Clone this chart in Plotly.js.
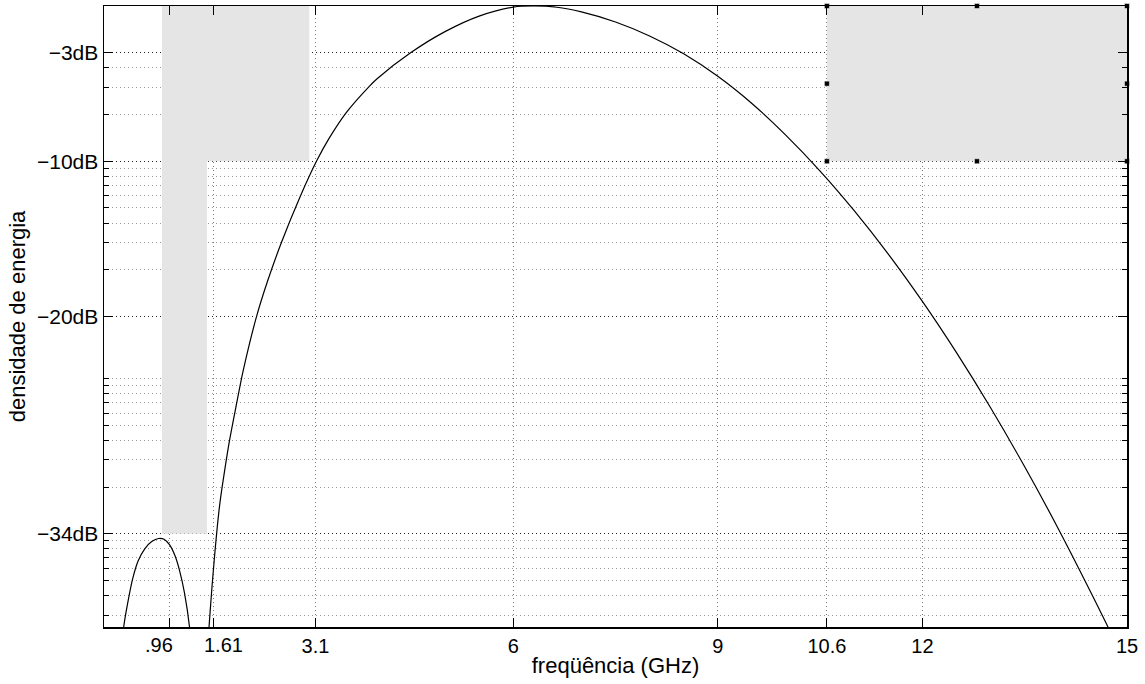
<!DOCTYPE html>
<html>
<head>
<meta charset="utf-8">
<script src="https://cdn.plot.ly/plotly-3.0.1.min.js"></script>
<style>html,body{margin:0;padding:0;background:#fff;}#chart{width:1145px;height:684px;}</style>
</head>
<body>
<div id="chart"></div>
<script>
// Spectrum curve (GHz, dB)
const freqGHz = [0.25, 0.289, 0.35, 0.42, 0.50, 0.60, 0.70, 0.80, 0.88, 0.96, 1.04, 1.11, 1.18, 1.254, 1.30,
  1.46, 1.54, 1.58, 1.62, 1.66, 1.70, 1.77, 1.84, 1.94, 2.04, 2.23, 2.40, 2.60, 2.874, 3.117, 3.30, 3.555,
  3.897, 4.0, 4.5, 5.0, 5.5, 6.0, 6.3, 6.64, 7.0, 7.5, 8.0, 8.5, 9.0, 9.5, 10.0, 10.5, 11.0, 11.5, 12.0,
  12.5, 13.0, 13.5, 14.0, 14.5, 14.7, 14.85];
const powerDb = [-42.5, -40.0, -38.4, -36.9, -35.75, -34.95, -34.5, -34.3, -34.35, -34.7, -35.4, -36.4, -37.8, -40.0, -42.5,
  -45, -40.0, -37.6, -35.5, -33.6, -32.0, -29.9, -28.0, -25.7, -23.5, -20.1, -17.7, -15.25, -12.3, -9.99, -8.53, -6.85,
  -5.14, -4.70, -3.0, -1.65, -0.65, -0.07, 0, -0.08, -0.38, -1.03, -1.93, -3.08, -4.53, -6.28, -8.33, -10.63, -13.18, -15.98, -19.03,
  -22.33, -25.88, -29.68, -33.73, -38.03, -39.81, -41.2];

// Gray mask regions
const maskLowX = [0.85, 0.85, 3.01, 3.01, 1.51, 1.51];
const maskLowY = [-34, 0, 0, -10, -10, -34];
const maskHighX = [10.6, 10.6, 15, 15];
const maskHighY = [-10, 0, 0, -10];

// Selection handles of the right mask
const handleX = [10.6, 12.8, 15, 10.6, 15, 10.6, 12.8, 15];
const handleY = [0, 0, 0, -5, -5, -10, -10, -10];

// Tick values / labels
const xTickVals = [0.96, 1.61, 3.1, 6, 9, 10.6, 12, 15];
const xTickText = ['.96', '1.61', '3.1', '6', '9', '10.6', '12', '15'];
const yTickVals = [-34, -20, -10, -3];
const yTickText = ['\u221234dB', '\u221220dB', '\u221210dB', '\u22123dB'];

// the two crowded labels (.96 and 1.61) are drawn pushed apart, as in the original
const crowded = {0: -10, 1: 10};
const axisTickText = xTickText.map((t, i) => (i in crowded ? '' : t));

// minor (log-style) grid: multiples of each major tick in linear power
function minorGrid() {
  const out = [];
  const lin = yTickVals.map(v => Math.pow(10, v / 10));
  const lo = Math.pow(10, -4), hi = 1;
  for (let k = 3; k <= 9; k++) { const v = lin[0] * 0.1 * k; if (v > lo) out.push(v); }
  for (let i = 0; i < lin.length; i++) {
    const next = i + 1 < lin.length ? lin[i + 1] : hi;
    for (let k = 2; k <= 10; k++) { const v = lin[i] * k; if (v < next * 0.98) out.push(v); }
  }
  return out.map(v => 10 * Math.log10(v));
}

const font = 'Liberation Sans, Arial, Helvetica, sans-serif';

const annotations = Object.keys(crowded).map(k => ({
  x: xTickVals[k], xref: 'x', y: 0, yref: 'paper', yanchor: 'top', xanchor: 'center',
  xshift: crowded[k], yshift: -6, showarrow: false, borderpad: 0,
  text: xTickText[k], font: {family: font, size: 20, color: '#000'}
}));

const traces = [
  {x: maskLowX, y: maskLowY, type: 'scatter', mode: 'lines', fill: 'toself', fillcolor: '#e5e5e5',
   line: {width: 0, color: '#e5e5e5'}, hoverinfo: 'skip', showlegend: false},
  {x: maskHighX, y: maskHighY, type: 'scatter', mode: 'lines', fill: 'toself', fillcolor: '#e5e5e5',
   line: {width: 0, color: '#e5e5e5'}, hoverinfo: 'skip', showlegend: false},
  {x: freqGHz, y: powerDb, type: 'scatter', mode: 'lines',
   line: {color: '#000', width: 1.2, shape: 'spline', smoothing: 0.8}, showlegend: false},
  {x: handleX, y: handleY, type: 'scatter', mode: 'markers', cliponaxis: false,
   marker: {symbol: 'square', size: 5, color: '#000', line: {width: 0.5, color: '#fff'}}, showlegend: false}
];

const layout = {
  width: 1145, height: 684,
  margin: {l: 104, r: 18, t: 6, b: 57},
  paper_bgcolor: '#fff', plot_bgcolor: '#fff',
  font: {family: font, size: 21, color: '#000'},
  showlegend: false,
  annotations: annotations,
  xaxis: {
    range: [0, 15], tickmode: 'array', tickvals: xTickVals, ticktext: axisTickText, tickangle: 0,
    ticks: 'inside', ticklen: 9, tickcolor: '#000', tickwidth: 1, ticklabelstandoff: 0,
    showline: true, linecolor: '#000', linewidth: 1.5, mirror: 'ticks',
    showgrid: true, gridcolor: '#777', griddash: '1px,3px', gridwidth: 1, zeroline: false,
    tickfont: {family: font, size: 20},
    title: {text: 'freqüência (GHz)', font: {family: font, size: 22}, standoff: 2}
  },
  yaxis: {
    range: [-40, 0], tickmode: 'array', tickvals: yTickVals, ticktext: yTickText,
    ticks: 'inside', ticklen: 9, tickcolor: '#000', tickwidth: 1,
    showline: true, linecolor: '#000', linewidth: 1.5, mirror: 'ticks',
    showgrid: true, gridcolor: '#222', griddash: '1px,3px', gridwidth: 1, zeroline: false,
    tickfont: {family: font, size: 21},
    minor: {tickmode: 'array', tickvals: minorGrid(), ticks: 'inside', ticklen: 5, tickcolor: '#000',
            showgrid: true, gridcolor: '#999', griddash: '1px,3px', gridwidth: 1},
    title: {text: 'densidade de energia', font: {family: font, size: 22}, standoff: 5}
  }
};

Plotly.newPlot('chart', traces, layout, {displayModeBar: false, staticPlot: true});
</script>
</body>
</html>
